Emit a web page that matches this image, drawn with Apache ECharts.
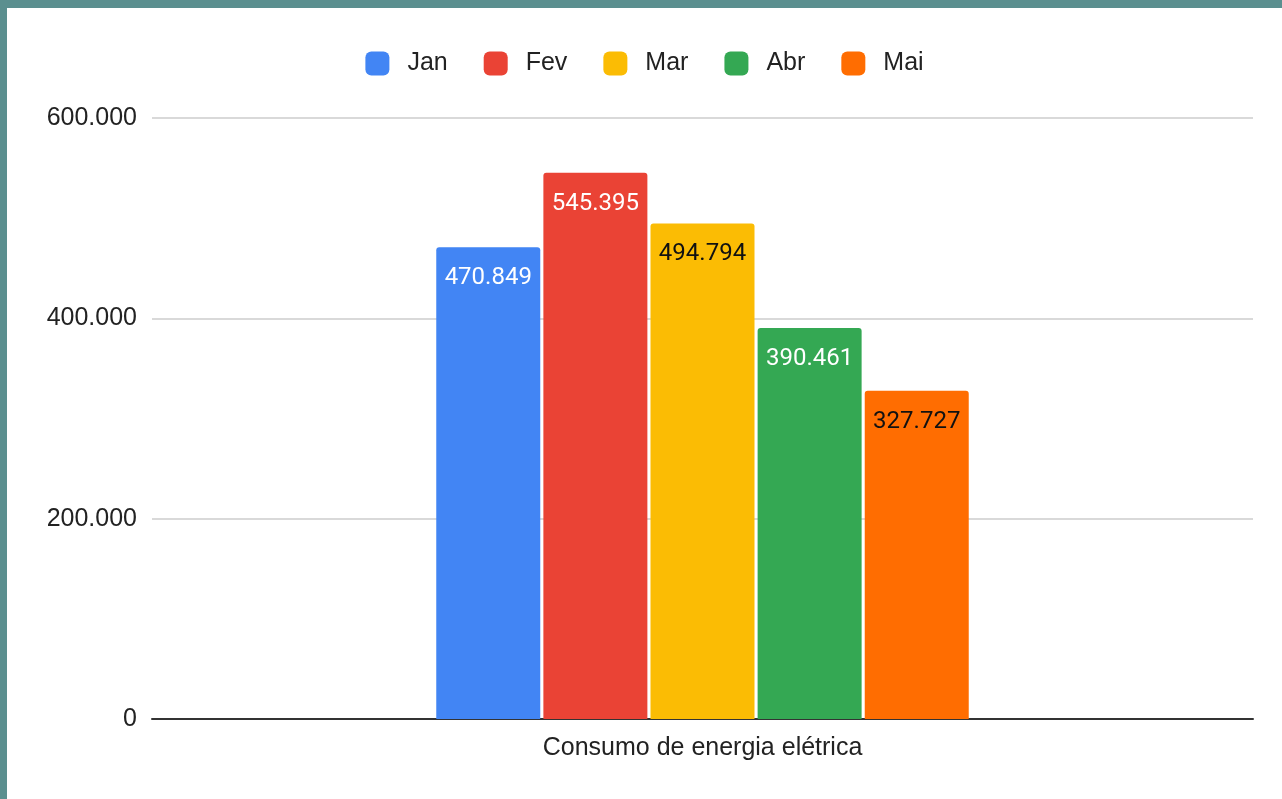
<!DOCTYPE html>
<html>
<head>
<meta charset="utf-8">
<script src="https://cdn.jsdelivr.net/npm/echarts@6/dist/echarts.min.js"></script>
<style>
	html, body { margin: 0; padding: 0; background: #5b8f8f; width: 1282px; height: 799px; overflow: hidden; }
	#main { position: absolute; left: 7px; top: 8px; width: 1275px; height: 791px; background: #ffffff; }
</style>
</head>
<body>
<div id="main"></div>
<script>
// dados do gráfico
var categorias = ['Consumo de energia elétrica'];
var meses = ['Jan', 'Fev', 'Mar', 'Abr', 'Mai'];
var valores = [470849, 545395, 494794, 390461, 327727];
var cores = ['#4285f4', '#ea4335', '#fbbc04', '#34a853', '#ff6d01'];
var coresRotulo = ['#ffffff', '#ffffff', '#111111', '#ffffff', '#111111'];

// 470849 -> "470.849"
function formata(v) {
	return String(v).replace(/\B(?=(\d{3})+(?!\d))/g, '.');
}

var myChart = echarts.init(document.getElementById('main'));

var series = meses.map(function(m, i) {
	return {
		name: m,
		type: 'bar',
		barWidth: 104,
		barGap: '3%',
		data: [valores[i]],
		itemStyle: {
			color: cores[i],
			borderRadius: [3, 3, 0, 0]
		},
		label: {
			show: true,
			position: 'insideTop',
			distance: 19,
			fontFamily: 'Roboto',
			fontSize: 24,
			color: coresRotulo[i],
			formatter: function(p) { return formata(p.value); }
		}
	};
});

var option = {
	animation: false,
	legend: {
		top: 38,
		left: 'center',
		itemWidth: 24,
		itemHeight: 24,
		itemGap: 36,
		icon: 'roundRect',
		textStyle: {
			fontFamily: 'Liberation Sans',
			fontSize: 25,
			color: '#222222',
			padding: [0, 0, 0, 13]
		},
		data: meses
	},
	grid: {
		left: 145,
		right: 29,
		top: 110,
		bottom: 80
	},
	xAxis: {
		type: 'category',
		data: categorias,
		axisTick: { show: false },
		axisLine: { lineStyle: { color: '#333333', width: 2 } },
		axisLabel: {
			margin: 17,
			fontFamily: 'Liberation Sans',
			fontSize: 25,
			color: '#222222'
		}
	},
	yAxis: {
		type: 'value',
		min: 0,
		max: 600000,
		interval: 200000,
		axisLine: { show: false },
		axisTick: { show: false },
		splitLine: { lineStyle: { color: '#cccccc', width: 1.5 } },
		axisLabel: {
			margin: 15,
			fontFamily: 'Liberation Sans',
			fontSize: 25,
			color: '#222222',
			formatter: function(v) { return formata(v); }
		}
	},
	series: series
};

myChart.setOption(option);
</script>
</body>
</html>
